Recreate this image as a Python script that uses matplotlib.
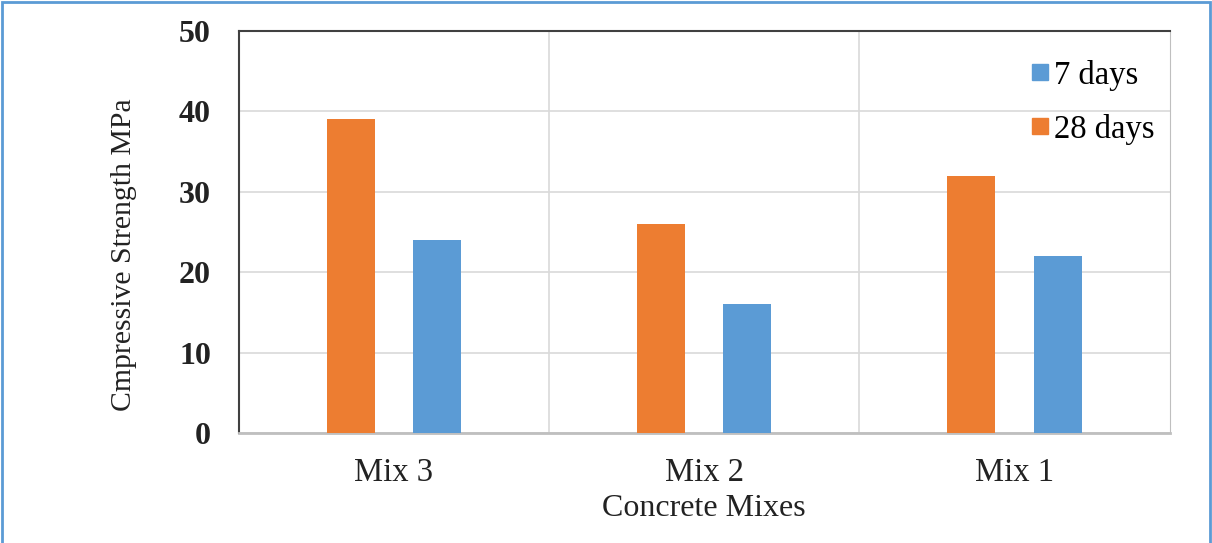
import numpy as np
import matplotlib.pyplot as plt
from matplotlib.patches import Rectangle
from matplotlib.lines import Line2D

# Compressive strength per mix (MPa)
mixes = ["Mix 3", "Mix 2", "Mix 1"]
strength_28d = [39, 26, 32]
strength_7d = [24, 16, 22]
y_ticks = [0, 10, 20, 30, 40, 50]

orange = "#ED7D31"
blue = "#5B9BD5"

plt.rcParams["font.family"] = ["Liberation Serif", "DejaVu Serif"]

fig = plt.figure(figsize=(12.12, 5.43), dpi=100)
ax = fig.add_axes([0.197, 0.2026, 0.768, 0.7404])

x = np.arange(len(mixes))
width = 0.155
ax.bar(x - 0.139, strength_28d, width, color=orange, zorder=3)
ax.bar(x + 0.139, strength_7d, width, color=blue, zorder=3)

ax.set_xlim(-0.5, len(mixes) - 0.5)
ax.set_ylim(0, 50)
ax.set_yticks(y_ticks)
ax.set_yticklabels([str(t) for t in y_ticks], fontsize=23, fontweight="bold", color="#222222")
ax.set_xticks(x)
ax.set_xticklabels(mixes, fontsize=23.5, color="#222222")
ax.tick_params(axis="y", length=0, pad=20)
ax.tick_params(axis="x", length=0, pad=18)

# horizontal grid plus vertical separators between categories
ax.yaxis.grid(True, color="#d9d9d9", linewidth=1.2, zorder=0)
for b in np.arange(0.5, len(mixes) - 0.5):
    ax.axvline(b, color="#d9d9d9", linewidth=1.2, zorder=0)

ax.spines["left"].set_color("#404040")
ax.spines["top"].set_color("#404040")
ax.spines["left"].set_linewidth(1.5)
ax.spines["top"].set_linewidth(1.5)
ax.spines["bottom"].set_color("#bfbfbf")
ax.spines["right"].set_color("#bfbfbf")
ax.spines["bottom"].set_linewidth(2)

ax.set_ylabel("Cmpressive Strength MPa", fontsize=21.4, color="#222222")
ax.yaxis.set_label_coords(-0.109, 0.443)
ax.set_xlabel("Concrete Mixes", fontsize=23, color="#222222", labelpad=4)

handles = [
    Line2D([], [], marker="s", linestyle="none", markersize=11.5, color=blue),
    Line2D([], [], marker="s", linestyle="none", markersize=11.5, color=orange),
]
ax.legend(handles, ["7 days", "28 days"], loc="upper right", bbox_to_anchor=(1.0086, 0.985),
          frameon=False, fontsize=23.5, handlelength=0.6, handletextpad=0.15,
          labelspacing=0.7, borderpad=0.2)

# thin blue border around the whole figure
fig.patches.append(Rectangle((0.002, -0.01), 0.996, 1.007, transform=fig.transFigure,
                             fill=False, edgecolor=blue, linewidth=2))

fig.savefig("out.png", dpi=100)
